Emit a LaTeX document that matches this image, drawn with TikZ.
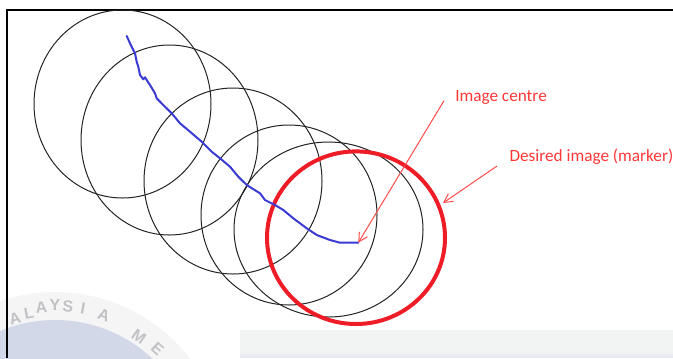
\documentclass[tikz,border=0pt]{standalone}
\usepackage{fontspec}
\setmainfont{Carlito}
\newfontfamily\wmfont{Liberation Sans}
\usetikzlibrary{arrows.meta}
\definecolor{lblred}{RGB}{255,55,55}
\definecolor{arrred}{RGB}{255,75,75}
\definecolor{markred}{RGB}{238,28,38}
\definecolor{pathblue}{RGB}{58,58,212}
\definecolor{circgray}{RGB}{35,35,35}
\definecolor{wmdisc}{RGB}{210,216,232}
\definecolor{wmring}{RGB}{245,245,245}
\definecolor{wmtext}{RGB}{194,194,198}
\definecolor{bandgray}{RGB}{242,243,243}
\definecolor{bandblue}{RGB}{232,235,242}
\begin{document}
\begin{tikzpicture}[x=0.75pt,y=-0.75pt,
  trackcircle/.style={draw=circgray, line width=0.75pt},
  markercircle/.style={draw=markred, line width=3pt},
  pathline/.style={draw=pathblue, line width=1.5pt, line join=round, line cap=round},
  pointer/.style={draw=arrred, line width=0.75pt, -{Straight Barb[length=6.5pt,width=7pt]}},
  lbl/.style={text=lblred, font=\fontsize{12.9pt}{15pt}\selectfont, inner sep=0pt, anchor=base west},
  wmletter/.style={text=wmtext, font=\wmfont\bfseries\fontsize{12pt}{13pt}\selectfont, inner sep=0pt},
  frameline/.style={draw=black, line width=1.5pt}]
\useasboundingbox (0,0) rectangle (673,358);
\clip (0,0) rectangle (673,358);
% faint watermark and bottom band
\fill[wmring] (55,462) circle [radius=170];
\fill[wmdisc] (55,462) circle [radius=142];
\node[wmletter, rotate=15.6]  (wm2)  at (15,319)  {A};
\node[wmletter, rotate=10]    (wm3)  at (29,313)  {L};
\node[wmletter, rotate=5]     (wm4)  at (41.5,308) {A};
\node[wmletter, rotate=0]     (wm5)  at (55,305)  {Y};
\node[wmletter, rotate=-5]    (wm6)  at (68,306)  {S};
\node[wmletter, rotate=-10]   (wm7)  at (83,308)  {I};
\node[wmletter, rotate=-19]   (wm8)  at (104,315) {A};
\node[wmletter, rotate=-34.4] (wm9)  at (139,337) {M};
\node[wmletter, rotate=-41.8] (wm10) at (157.5,349) {E};
\fill[bandgray] (240,330) rectangle (673,358);
\fill[bandblue] (240,354) rectangle (673,358);
% frame
\coordinate (ftr) at (673,9.8);
\coordinate (ftl) at (6.7,9.8);
\coordinate (fbl) at (6.7,358);
\draw[frameline] (ftr) -- (ftl) -- (fbl);
% track circles
\draw[trackcircle] (122.5,104) ellipse [x radius=88.5, y radius=94];
\draw[trackcircle] (169.5,140) ellipse [x radius=88.5, y radius=95];
\draw[trackcircle] (233,181) ellipse [x radius=89, y radius=93];
\draw[trackcircle] (289,215) ellipse [x radius=88, y radius=90];
\draw[trackcircle] (328.5,229.5) ellipse [x radius=94.5, y radius=87.5];
% marker circle
\draw[markercircle] (356,237.7) ellipse [x radius=89, y radius=86.3];
\coordinate (markpt) at (443,203);
% path of image centre
\draw[pathline] (126.7,36) coordinate (pstart) -- (130,43.3) -- (135,53.3) -- (136.7,61.7) -- (138.3,66.7)
  -- (140,75) -- (143.3,79.3) -- (145,77.3) -- (146.7,80) -- (150,85) -- (155,93.3) -- (156.7,98.3)
  -- (163.3,105) -- (171.7,113.3) -- (180,123.3) -- (190,131.7) -- (201.7,141.7) -- (211.7,151.7)
  -- (220,158.3) -- (230,166.7) -- (238.3,176.7) -- (246.7,185) -- (260,193.3) -- (265,200)
  -- (275,205) -- (283.3,210) -- (293.3,218.3) -- (306.7,228.3) -- (316.7,235) -- (330,240)
  -- (340,242.7) -- (358.3,242.7) coordinate (imgc);
% labels and pointers
\node[lbl] (lblc) at (455,101.5) {Image centre};
\node[lbl] (lblm) at (509.3,161.5) {Desired image (marker)};
\draw[pointer] ([shift={(-11,-0.8)}]lblc.base west) -- (imgc);
\draw[pointer] ([shift={(-12.3,4.5)}]lblm.base west) -- (markpt);
\end{tikzpicture}
\end{document}
